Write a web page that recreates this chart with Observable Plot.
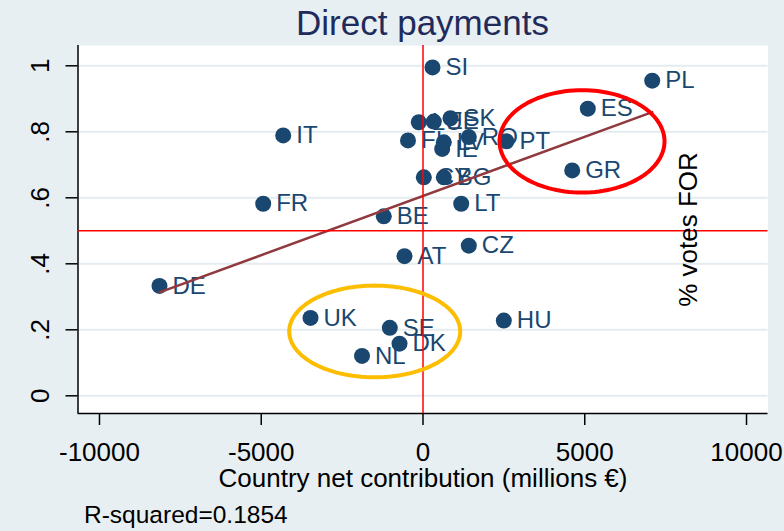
<!DOCTYPE html>
<html>
<head>
<meta charset="utf-8">
<script src="https://cdn.jsdelivr.net/npm/d3@7"></script>
<script src="https://cdn.jsdelivr.net/npm/@observablehq/plot@0.6"></script>
<style>
  html, body { margin: 0; padding: 0; }
  body { background: #e8eff2; width: 784px; height: 531px; overflow: hidden; font-family: "Liberation Sans", Arial, sans-serif; }
  #wrap { position: relative; width: 784px; height: 531px; }
  #title { position: absolute; left: 77.5px; top: 0; width: 690px; height: 45px; line-height: 45px; text-align: center; font-size: 35px; color: #1f2b5b; }
  #chart { position: absolute; left: 0; top: 45px; }
</style>
</head>
<body>
<div id="wrap">
  <div id="title">Direct payments</div>
  <div id="chart"></div>
</div>
<script>
// ---- data ----
const countries = ["SI","PL","ES","IT","GR","PT","FR","BE","LT","CZ","AT","DE","UK","SE","DK","NL","HU","SK","EE","LU","FI","LV","IE","RO","CY","BG"];
const netContribution = [294, 7085, 5094, -4321, 4612, 2581, -4939, -1212, 1181, 1416, -572, -8145, -3477, -1026, -726, -1885, 2498, 850, 334, -130, -464, 643, 593, 1416, 25, 643];
const votesFor = [0.995, 0.955, 0.870, 0.789, 0.683, 0.771, 0.582, 0.544, 0.582, 0.455, 0.423, 0.333, 0.236, 0.206, 0.158, 0.121, 0.228, 0.841, 0.831, 0.829, 0.774, 0.768, 0.748, 0.784, 0.662, 0.662];

const xTicks = [-10000, -5000, 0, 5000, 10000];
const yTicks = [0, 0.2, 0.4, 0.6, 0.8, 1];
const yTickLabels = ["0", ".2", ".4", ".6", ".8", "1"];
const xTitle = "Country net contribution (millions €)";
const yTitle = "% votes FOR";
const caption = "R-squared=0.1854";
const refX = [0];
const refY = [0.5];

// annotation ellipses (data units)
const ellipseCx = [4915, -1493];
const ellipseCy = [0.771, 0.195];
const ellipseRx = [2550, 2643];
const ellipseRy = [0.155, 0.139];
const ellipseColor = ["#ff0000", "#fdbd00"];

// ---- build ----
const data = countries.map((c, i) => ({country: c, x: netContribution[i], y: votesFor[i]}));
const ellipsePts = [];
ellipseCx.forEach((cx, k) => {
  d3.range(0, 121).forEach(j => {
    const t = (j / 120) * 2 * Math.PI;
    ellipsePts.push({k, x: cx + ellipseRx[k] * Math.cos(t), y: ellipseCy[k] + ellipseRy[k] * Math.sin(t)});
  });
});

const xDomain = [-10664, 10664];
const yDomain = [-0.0536, 1.0615];
const navy = "#1a476f";
const font = "Liberation Sans, Arial, sans-serif";

const chart = Plot.plot({
  width: 784,
  height: 486,
  marginTop: 0,
  marginLeft: 77.5,
  marginRight: 16.5,
  marginBottom: 118,
  style: {background: "transparent", fontFamily: font, overflow: "visible"},
  x: {domain: xDomain},
  y: {domain: yDomain},
  marks: [
    Plot.frame({fill: "white", stroke: null}),
    Plot.gridY(yTicks, {stroke: "#e4ecef", strokeOpacity: 1, strokeWidth: 2}),
    Plot.ruleX([xDomain[0]], {stroke: "black", strokeWidth: 1.5}),
    Plot.ruleY([yDomain[0]], {stroke: "black", strokeWidth: 1.5}),
    Plot.axisX(xTicks, {tickSize: 12, tickPadding: 17.5, fontSize: 26, fill: "black", stroke: "black", strokeWidth: 1.5, tickFormat: d => String(d), label: null}),
    Plot.axisY(yTicks, {tickSize: 12, stroke: "black", strokeWidth: 1.5, tickFormat: () => "", label: null}),
    Plot.text(yTicks, {y: d => d, text: (d, i) => yTickLabels[i], frameAnchor: "left", dx: -37, rotate: -90, textAnchor: "middle", lineAnchor: "middle", fontSize: 26, fill: "black"}),
    Plot.dot(data, {x: "x", y: "y", r: 8, fill: navy, stroke: null}),
    Plot.text(data, {x: "x", y: "y", text: "country", dx: 13, textAnchor: "start", lineAnchor: "middle", fontSize: 24, fill: navy}),
    Plot.linearRegressionY(data, {x: "x", y: "y", ci: 0, stroke: "#903a3f", strokeWidth: 2.5}),
    Plot.ruleX(refX, {stroke: "#ff0000", strokeWidth: 1.5}),
    Plot.ruleY(refY, {stroke: "#ff0000", strokeWidth: 1.5}),
    Plot.line(ellipsePts, {x: "x", y: "y", z: "k", stroke: d => ellipseColor[d.k], strokeWidth: 4, curve: "linear-closed"}),
    Plot.text([yTitle], {frameAnchor: "right", dx: -79.5, rotate: -90, textAnchor: "middle", lineAnchor: "middle", fontSize: 26, fill: "black"}),
    Plot.text([xTitle], {frameAnchor: "bottom", dy: 65, textAnchor: "middle", lineAnchor: "middle", fontSize: 26, fill: "black"}),
    Plot.text([caption], {frameAnchor: "bottom-left", dx: 6, dy: 102, textAnchor: "start", lineAnchor: "middle", fontSize: 24.5, fill: "black"})
  ]
});
document.getElementById("chart").appendChild(chart);
</script>
</body>
</html>
